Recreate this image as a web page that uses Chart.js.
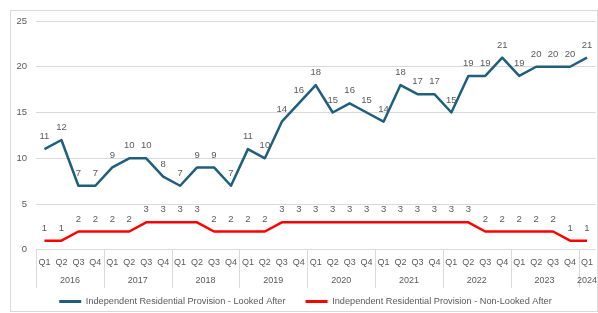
<!DOCTYPE html>
<html>
<head>
<meta charset="utf-8">
<script src="https://cdn.jsdelivr.net/npm/chart.js@4.4.0/dist/chart.umd.min.js"></script>
<style>
  html, body { margin: 0; padding: 0; background: #fff; overflow: hidden; }
  #wrap { position: absolute; left: 0; top: 0; width: 600px; height: 316px; }
</style>
</head>
<body>
<div id="wrap"><canvas id="chart"></canvas></div>
<script>
const years = ['2016', '2017', '2018', '2019', '2020', '2021', '2022', '2023', '2024'];
const quarters = [
    'Q1', 'Q2', 'Q3', 'Q4', 'Q1', 'Q2', 'Q3', 'Q4', 'Q1', 'Q2', 'Q3', 'Q4',
    'Q1', 'Q2', 'Q3', 'Q4', 'Q1', 'Q2', 'Q3', 'Q4', 'Q1', 'Q2', 'Q3', 'Q4',
    'Q1', 'Q2', 'Q3', 'Q4', 'Q1', 'Q2', 'Q3', 'Q4', 'Q1'
];
const lookedAfter = [11, 12, 7, 7, 9, 10, 10, 8, 7, 9, 9, 7, 11, 10, 14, 16, 18, 15, 16, 15,
    14, 18, 17, 17, 15, 19, 19, 21, 19, 20, 20, 20, 21];
const nonLookedAfter = [1, 1, 2, 2, 2, 2, 3, 3, 3, 3, 2, 2, 2, 2, 3, 3, 3, 3, 3, 3,
    3, 3, 3, 3, 3, 3, 2, 2, 2, 2, 2, 1, 1];
const yMax = 25;
const yStep = 5;

const textColor = '#595959';
const gridColor = '#d9d9d9';
const fontFamily = '"Liberation Sans", Arial, sans-serif';

// value labels above each point
const pointLabels = {
    id: 'pointLabels',
    afterDatasetsDraw(chart) {
        const ctx = chart.ctx;
        ctx.save();
        ctx.font = '9.5px ' + fontFamily;
        ctx.fillStyle = textColor;
        ctx.textAlign = 'center';
        ctx.textBaseline = 'middle';
        chart.data.datasets.forEach((ds, i) => {
            chart.getDatasetMeta(i).data.forEach((pt, j) => {
                ctx.fillText(ds.data[j], pt.x, pt.y - 12.5);
            });
        });
        ctx.restore();
    }
};

// year row under the quarters, separators and outer frame
const yearAxis = {
    id: 'yearAxis',
    afterDraw(chart) {
        const ctx = chart.ctx;
        const x = chart.scales.x;
        const bottom = chart.chartArea.bottom;
        const half = (x.getPixelForValue(1) - x.getPixelForValue(0)) / 2;
        ctx.save();
        ctx.strokeStyle = gridColor;
        ctx.lineWidth = 1;
        ctx.font = '9px ' + fontFamily;
        ctx.fillStyle = textColor;
        ctx.textAlign = 'center';
        ctx.textBaseline = 'middle';
        ctx.beginPath();
        ctx.rect(0, 0, 597, 316);
        ctx.clip();
        years.forEach((yr, k) => {
            const first = k * 4;
            const last = Math.min(first + 3, quarters.length - 1);
            const left = Math.round(x.getPixelForValue(first) - half) + 0.5;
            ctx.beginPath();
            ctx.moveTo(left, bottom);
            ctx.lineTo(left, bottom + 38);
            ctx.stroke();
            const mid = (x.getPixelForValue(first) + x.getPixelForValue(last)) / 2;
            ctx.fillText(yr, mid, bottom + 31);
        });
        ctx.restore();
        ctx.save();
        ctx.fillStyle = '#fff';
        ctx.fillRect(597, 0, 3, 316);
        ctx.strokeStyle = gridColor;
        ctx.strokeRect(10.5, 10.5, 587, 301);
        ctx.restore();
    }
};

new Chart(document.getElementById('chart').getContext('2d'), {
    type: 'line',
    data: {
        labels: quarters,
        datasets: [{
            label: 'Independent Residential Provision - Looked After',
            data: lookedAfter,
            borderColor: '#1f5e7d',
            backgroundColor: '#1f5e7d',
            borderWidth: 2.5,
            borderJoinStyle: 'round',
            pointRadius: 0,
            tension: 0
        }, {
            label: 'Independent Residential Provision - Non-Looked After',
            data: nonLookedAfter,
            borderColor: '#ff0000',
            backgroundColor: '#ff0000',
            borderWidth: 2.5,
            borderJoinStyle: 'round',
            pointRadius: 0,
            tension: 0
        }]
    },
    options: {
        responsive: true,
        maintainAspectRatio: false,
        animation: false,
        layout: { padding: { top: 21, left: 11, right: 0, bottom: 0 } },
        plugins: {
            tooltip: { enabled: false },
            legend: {
                position: 'bottom',
                labels: {
                    boxWidth: 22,
                    boxHeight: 3,
                    padding: 20,
                    color: textColor,
                    font: { family: fontFamily, size: 9.2 },
                    generateLabels: chart => chart.data.datasets.map((ds, i) => ({
                        text: ds.label,
                        fillStyle: ds.borderColor,
                        strokeStyle: ds.borderColor,
                        lineWidth: 0,
                        fontColor: textColor,
                        hidden: false,
                        datasetIndex: i
                    }))
                }
            }
        },
        scales: {
            x: {
                offset: true,
                grid: { display: false, drawTicks: false },
                border: { display: false },
                ticks: {
                    color: textColor,
                    font: { family: fontFamily, size: 9 },
                    padding: 7,
                    maxRotation: 0,
                    autoSkip: false
                },
                afterFit: scale => { scale.height = 27; }
            },
            y: {
                min: 0,
                max: yMax,
                grid: { color: gridColor, drawTicks: false },
                border: { display: false },
                ticks: {
                    stepSize: yStep,
                    color: textColor,
                    font: { family: fontFamily, size: 9.5 },
                    padding: 9
                },
                afterFit: scale => { scale.width = 25; }
            }
        }
    },
    plugins: [pointLabels, yearAxis]
});
</script>
</body>
</html>
